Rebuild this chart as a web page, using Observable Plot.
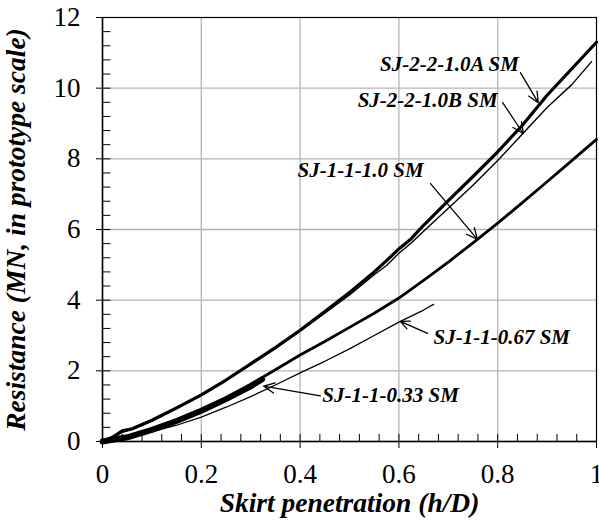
<!DOCTYPE html>
<html>
<head>
<meta charset="utf-8">
<script src="https://cdn.jsdelivr.net/npm/d3@7"></script>
<script src="https://cdn.jsdelivr.net/npm/@observablehq/plot@0.6"></script>
<style>
body { margin: 0; background: white; }
</style>
</head>
<body>
<div id="chart"></div>
<script>
// ---- data ----
const xA = [0, 0.02, 0.04, 0.06, 0.1, 0.15, 0.2, 0.25, 0.3, 0.35, 0.4, 0.45, 0.5, 0.55, 0.575, 0.6, 0.625, 0.65, 0.7, 0.75, 0.8, 0.85, 0.9, 0.95, 1.0];
const yA = [0, 0.12, 0.3, 0.36, 0.6, 0.95, 1.32, 1.74, 2.2, 2.66, 3.15, 3.68, 4.22, 4.8, 5.12, 5.45, 5.74, 6.12, 6.82, 7.5, 8.2, 8.95, 9.8, 10.55, 11.3];

const xB = [0, 0.02, 0.04, 0.06, 0.1, 0.15, 0.2, 0.25, 0.3, 0.35, 0.4, 0.45, 0.5, 0.55, 0.575, 0.6, 0.625, 0.65, 0.7, 0.75, 0.8, 0.85, 0.9, 0.95, 0.99];
const yB = [0, 0.1, 0.26, 0.34, 0.58, 0.93, 1.3, 1.72, 2.17, 2.63, 3.12, 3.63, 4.15, 4.72, 4.98, 5.33, 5.62, 5.95, 6.6, 7.25, 7.95, 8.7, 9.45, 10.1, 10.75];

const x10 = [0, 0.05, 0.1, 0.15, 0.2, 0.25, 0.3, 0.35, 0.4, 0.45, 0.5, 0.55, 0.6, 0.65, 0.7, 0.75, 0.8, 0.85, 0.9, 0.95, 1.0];
const y10 = [0, 0.12, 0.32, 0.58, 0.89, 1.23, 1.62, 2.03, 2.45, 2.83, 3.23, 3.63, 4.06, 4.56, 5.08, 5.62, 6.18, 6.76, 7.35, 7.95, 8.55];

const x067 = [0, 0.05, 0.1, 0.15, 0.2, 0.25, 0.3, 0.35, 0.4, 0.45, 0.5, 0.55, 0.6, 0.65, 0.67];
const y067 = [0, 0.1, 0.27, 0.46, 0.69, 0.97, 1.27, 1.6, 1.94, 2.27, 2.62, 3.0, 3.38, 3.72, 3.88];

const x033 = [0, 0.05, 0.1, 0.15, 0.2, 0.25, 0.3, 0.323];
const y033 = [0, 0.12, 0.33, 0.58, 0.87, 1.2, 1.56, 1.76];

const seriesNames = ["SJ-2-2-1.0A SM", "SJ-2-2-1.0B SM", "SJ-1-1-1.0 SM", "SJ-1-1-0.67 SM", "SJ-1-1-0.33 SM"];

// annotation labels and their arrows (data coordinates)
const labelX = [0.843, 0.800, 0.650, 0.670, 0.445];
const labelY = [10.69, 9.65, 7.67, 2.95, 1.32];
const labelSide = ["end", "end", "end", "start", "start"];
const arrowX1 = [0.846, 0.810, 0.664, 0.658, 0.441];
const arrowY1 = [10.44, 9.59, 7.30, 3.06, 1.29];
const arrowX2 = [0.882, 0.852, 0.759, 0.603, 0.326];
const arrowY2 = [9.59, 8.71, 5.72, 3.40, 1.57];

const xTicks = [0, 0.2, 0.4, 0.6, 0.8, 1];
const xTickLabels = ["0", "0.2", "0.4", "0.6", "0.8", "1"];
const yTicks = [0, 2, 4, 6, 8, 10, 12];
const yTickLabels = ["0", "2", "4", "6", "8", "10", "12"];
const xMinor = d3.range(0, 26).map(i => i * 0.04);
const yMinor = d3.range(0, 31).map(i => i * 0.4);
const xGrid = [0.2, 0.4, 0.6, 0.8];
const yGrid = [2, 4, 6, 8, 10];

const xLabel = "Skirt penetration (h/D)";
const yLabel = "Resistance (MN, in prototype scale)";

// ---- build tables ----
const mk = (xs, ys) => xs.map((x, i) => ({x, y: ys[i]}));
const dA = mk(xA, yA), dB = mk(xB, yB), d10 = mk(x10, y10), d067 = mk(x067, y067), d033 = mk(x033, y033);
const labels = seriesNames.map((name, i) => ({name, x: labelX[i], y: labelY[i], side: labelSide[i]}));
const arrows = seriesNames.map((name, i) => ({x1: arrowX1[i], y1: arrowY1[i], x2: arrowX2[i], y2: arrowY2[i]}));

const serif = "Liberation Serif";
const lineOpts = {x: "x", y: "y", stroke: "black", strokeLinejoin: "round", strokeLinecap: "round"};
const annot = {x: "x", y: "y", text: "name", fontFamily: serif, fontSize: 21, fontWeight: "bold", fontStyle: "italic", fill: "black"};
const titleOpts = {fontFamily: serif, fontSize: 27.5, fontWeight: "bold", fontStyle: "italic", fill: "black", textAnchor: "middle"};

const chart = Plot.plot({
  width: 599,
  height: 529,
  marginLeft: 102,
  marginRight: 3,
  marginTop: 17,
  marginBottom: 88,
  style: {background: "white", color: "black", fontFamily: serif},
  x: {domain: [0, 1]},
  y: {domain: [0, 12]},
  marks: [
    Plot.gridX(xGrid, {stroke: "#b5b5b5", strokeOpacity: 1, strokeWidth: 1.3}),
    Plot.gridY(yGrid, {stroke: "#b5b5b5", strokeOpacity: 1, strokeWidth: 1.3}),
    Plot.frame({stroke: "black", strokeWidth: 1.2}),
    Plot.ruleX(xMinor, {y1: 0, y2: 0.2, stroke: "black", strokeWidth: 1}),
    Plot.ruleY(yMinor, {x1: 0, x2: 0.017, stroke: "black", strokeWidth: 1}),
    Plot.axisX({ticks: xTicks, tickSize: 7, tickPadding: 15, fontSize: 27, fontFamily: serif, tickFormat: (d, i) => xTickLabels[i], label: null}),
    Plot.axisY({ticks: yTicks, tickSize: 6, tickPadding: 16, fontSize: 27, fontFamily: serif, tickFormat: (d, i) => yTickLabels[i], label: null}),
    Plot.ruleX([0], {stroke: "black", strokeWidth: 1.5}),
    Plot.ruleY([0], {stroke: "black", strokeWidth: 1.5}),
    Plot.line(d067, {...lineOpts, strokeWidth: 1.3}),
    Plot.line(d10, {...lineOpts, strokeWidth: 2.8}),
    Plot.line(dB, {...lineOpts, strokeWidth: 1.4}),
    Plot.line(dA, {...lineOpts, strokeWidth: 3.2}),
    Plot.line(d033, {...lineOpts, strokeWidth: 6}),
    Plot.arrow(arrows, {x1: "x1", y1: "y1", x2: "x2", y2: "y2", stroke: "black", strokeWidth: 1.3, headLength: 14, headAngle: 50}),
    Plot.text(labels.filter(d => d.side === "end"), {...annot, textAnchor: "end"}),
    Plot.text(labels.filter(d => d.side === "start"), {...annot, textAnchor: "start"}),
    Plot.text([xLabel], {...titleOpts, frameAnchor: "bottom", dx: 0, dy: 70}),
    Plot.text([yLabel], {...titleOpts, frameAnchor: "left", dx: -86, rotate: -90})
  ]
});
document.getElementById("chart").appendChild(chart);
</script>
</body>
</html>
